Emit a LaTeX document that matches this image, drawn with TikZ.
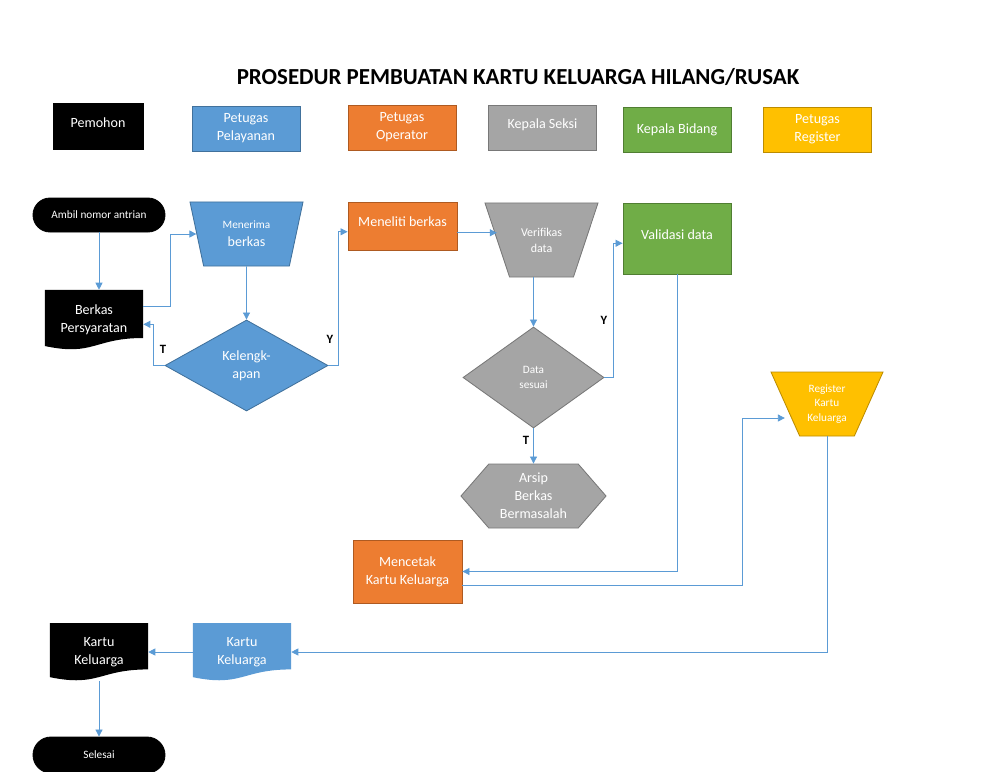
\documentclass[tikz,border=0pt]{standalone}
\usepackage{fontspec}
\setmainfont{Carlito}
\usetikzlibrary{shapes.geometric,shapes.symbols,arrows.meta,calc}
\definecolor{lnblue}{HTML}{5B9BD5}
\definecolor{fillblue}{HTML}{5B9BD5}
\definecolor{edgeblue}{HTML}{41719C}
\definecolor{fillorange}{HTML}{ED7D31}
\definecolor{edgeorange}{HTML}{AE5A21}
\definecolor{fillgray}{HTML}{A5A5A5}
\definecolor{edgegray}{HTML}{787878}
\definecolor{fillgreen}{HTML}{70AD47}
\definecolor{edgegreen}{HTML}{507E32}
\definecolor{fillgold}{HTML}{FFC000}
\definecolor{edgegold}{HTML}{BC8C00}
\definecolor{fillblack}{HTML}{000000}
\definecolor{edgeblack}{HTML}{000000}
\begin{document}
\begin{tikzpicture}[x=0.025cm,y=-0.025cm,
    every node/.style={text=white,align=center,font=\fontsize{10}{12.7}\selectfont},
    box/.style={draw=edge#1,fill=fill#1,line width=0.6pt,inner sep=0pt},
    hdr/.style={minimum width=2.7cm,minimum height=1.125cm},
    trap/.style={trapezium,trapezium stretches body=true,shape border rotate=180,inner sep=0pt},
    docshape/.style={rectangle,inner sep=0pt,minimum width=2.45cm,minimum height=1.45cm,
        path picture={\fill[fill#1] (path picture bounding box.north west)
            -- (path picture bounding box.north east)
            -- ($(path picture bounding box.north east)!0.8!(path picture bounding box.south east)$)
            .. controls ($(path picture bounding box.north)!0.8!(path picture bounding box.south)$)
            and ($(path picture bounding box.north)!1.107!(path picture bounding box.south)$)
            .. ($(path picture bounding box.north west)!0.934!(path picture bounding box.south west)$)
            -- cycle;}},
    conn/.style={draw=lnblue,line width=0.6pt,-{Triangle[length=5pt,width=5pt]}},
    yt/.style={text=black,font=\fontsize{9}{11}\selectfont\bfseries}]
    \useasboundingbox (0,0) rectangle (1000,771);

    % judul dan keterangan warna
    \node[text=black,font=\fontsize{16.3}{19}\selectfont\bfseries] (judul) at (518,77) {PROSEDUR PEMBUATAN KARTU KELUARGA HILANG/RUSAK};
    \node[box=black,minimum width=2.25cm,minimum height=1.15cm] (pemohon) at (98,126) {\raisebox{5pt}{Pemohon}};
    \node[box=blue,hdr] (pelayanan) at (246,128.5) {Petugas\\Pelayanan};
    \node[box=orange,hdr] (operator) at (402,127.5) {Petugas\\Operator};
    \node[box=gray,hdr] (seksi) at (542.5,127.5) {\raisebox{5pt}{Kepala Seksi}};
    \node[box=green,hdr] (bidang) at (677,129.5) {Kepala Bidang};
    \node[box=gold,hdr] (regist) at (817.5,129.5) {Petugas\\Register};

    % alur
    \node[box=black,rounded corners=0.425cm,minimum width=3.3cm,minimum height=0.85cm,font=\fontsize{8}{10}\selectfont] (antrian) at (99,215) {Ambil nomor antrian};
    \node[docshape=black,minimum height=1.5cm] (berkas) at (94,320) {Berkas\\Persyaratan};
    \node[box=blue,trap,trapezium angle=62,minimum width=2.825cm,minimum height=1.6cm] (menerima) at (246.5,234) {{\fontsize{8}{10}\selectfont Menerima}\\berkas};
    \node[box=blue,diamond,minimum width=4.075cm,minimum height=2.275cm] (kelengkapan) at (246.5,365.5) {Kelengk-\\apan};
    \node[box=orange,minimum width=2.725cm,minimum height=1.2cm] (meneliti) at (402.5,226) {\raisebox{6pt}{Meneliti berkas}};
    \node[box=gray,trap,trapezium angle=45,minimum width=2.825cm,minimum height=1.85cm,font=\fontsize{8.5}{11.5}\selectfont] (verifikas) at (541.5,240) {Verifikas\\data};
    \node[box=gray,diamond,minimum width=3.525cm,minimum height=2.525cm,font=\fontsize{8}{10.6}\selectfont] (datasesuai) at (533.5,377.5) {Data\\sesuai};
    \node[box=green,minimum width=2.7cm,minimum height=1.775cm] (validasi) at (677,238.5) {\raisebox{6pt}{Validasi data}};
    \node[box=gold,trap,trapezium angle=54,minimum width=2.8cm,minimum height=1.6cm,font=\fontsize{8}{10.6}\selectfont] (register) at (827,404) {Register\\Kartu\\Keluarga};
    \node[box=gray,signal,signal to=west and east,signal pointer angle=98,minimum width=3.625cm,minimum height=1.6cm] (arsip) at (533.5,496) {Arsip\\Berkas\\Bermasalah};
    \node[box=orange,minimum width=2.725cm,minimum height=1.575cm] (mencetak) at (407.5,571.5) {Mencetak\\Kartu Keluarga};
    \node[docshape=blue] (kkblue) at (242,652) {Kartu\\Keluarga};
    \node[docshape=black] (kkblack) at (99,652) {Kartu\\Keluarga};
    \node[box=black,rounded corners=0.45cm,minimum width=3.3cm,minimum height=0.9cm,font=\fontsize{8}{10}\selectfont] (selesai) at (99,755) {Selesai};

    \draw[conn] (antrian.south) -- (antrian.south |- berkas.north);
    \draw[conn] (berkas.15) -- ++(27,0) |- (menerima.west);
    \draw[conn] (menerima.south) -- (kelengkapan.north);
    \draw[conn] (kelengkapan.west) -- ++(-11,0) |- (berkas.-5);
    \draw[conn] (kelengkapan.east) -- ++(10,0) |- (meneliti.186);
    \draw[conn] (meneliti.-7) -- (meneliti.-7 -| verifikas.west);
    \draw[conn] (datasesuai.north |- verifikas.south) -- (datasesuai.north);
    \draw[conn] (datasesuai.east) -- ++(9,0) |- (validasi.185);
    \draw[conn] (datasesuai.south) -- (arsip.north);
    \draw[conn] (validasi.south) |- (mencetak.east);
    \draw[conn] (mencetak.-14) -- ++(280,0) |- ([yshift=-0.35cm]register.west);
    \draw[conn] (register.south) |- (kkblue.east);
    \draw[conn] (kkblue.west) -- (kkblack.east);
    \draw[conn] (kkblack.south) -- (selesai.north);

    \node[yt] (tkel) at (163,349) {T};
    \node[yt] (ykel) at (330,339) {Y};
    \node[yt] (ydata) at (604,320) {Y};
    \node[yt] (tdata) at (526,440) {T};
\end{tikzpicture}
\end{document}
